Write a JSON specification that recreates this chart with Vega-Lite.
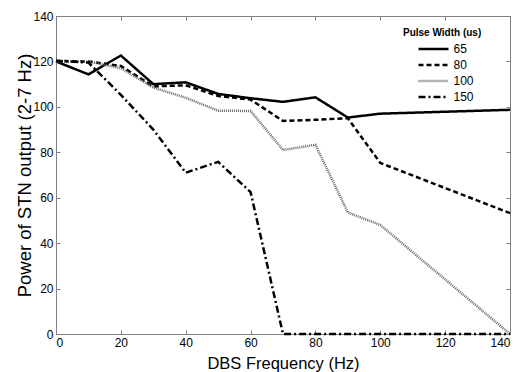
{
  "$schema": "https://vega.github.io/schema/vega-lite/v6.json",
  "width": 454,
  "height": 318,
  "autosize": "none",
  "padding": {"left": 56, "top": 16, "right": 16, "bottom": 38},
  "background": "white",
  "config": {
    "view": {"stroke": "#808080", "strokeWidth": 1},
    "font": "Liberation Sans",
    "axis": {
      "grid": false,
      "domainColor": "#808080",
      "tickColor": "#808080",
      "tickSize": -4,
      "labelPadding": 7,
      "labelColor": "black",
      "labelFont": "Liberation Sans",
      "labelFontSize": 12,
      "titleFont": "Liberation Sans",
      "titleFontWeight": "normal",
      "titleColor": "black"
    }
  },
  "data": {
    "values": [
      {"f": 0, "p": 120, "pw": "65"},
      {"f": 10, "p": 114.3, "pw": "65"},
      {"f": 20, "p": 122.6, "pw": "65"},
      {"f": 30, "p": 110, "pw": "65"},
      {"f": 40, "p": 110.8, "pw": "65"},
      {"f": 50, "p": 105.7, "pw": "65"},
      {"f": 60, "p": 103.8, "pw": "65"},
      {"f": 70, "p": 102.2, "pw": "65"},
      {"f": 80, "p": 104.2, "pw": "65"},
      {"f": 90, "p": 95.3, "pw": "65"},
      {"f": 100, "p": 97, "pw": "65"},
      {"f": 140, "p": 98.7, "pw": "65"},
      {"f": 0, "p": 120.2, "pw": "80"},
      {"f": 10, "p": 120, "pw": "80"},
      {"f": 20, "p": 118, "pw": "80"},
      {"f": 30, "p": 109, "pw": "80"},
      {"f": 40, "p": 109.5, "pw": "80"},
      {"f": 50, "p": 104.8, "pw": "80"},
      {"f": 60, "p": 103.2, "pw": "80"},
      {"f": 70, "p": 93.8, "pw": "80"},
      {"f": 80, "p": 94.3, "pw": "80"},
      {"f": 90, "p": 95, "pw": "80"},
      {"f": 100, "p": 75.3, "pw": "80"},
      {"f": 140, "p": 53.2, "pw": "80"},
      {"f": 0, "p": 120, "pw": "100"},
      {"f": 10, "p": 120, "pw": "100"},
      {"f": 20, "p": 117, "pw": "100"},
      {"f": 30, "p": 108.5, "pw": "100"},
      {"f": 40, "p": 104, "pw": "100"},
      {"f": 50, "p": 98.3, "pw": "100"},
      {"f": 60, "p": 98.2, "pw": "100"},
      {"f": 70, "p": 81, "pw": "100"},
      {"f": 80, "p": 83.3, "pw": "100"},
      {"f": 90, "p": 53.5, "pw": "100"},
      {"f": 100, "p": 48, "pw": "100"},
      {"f": 140, "p": 0, "pw": "100"},
      {"f": 0, "p": 120.3, "pw": "150"},
      {"f": 10, "p": 119.5, "pw": "150"},
      {"f": 20, "p": 105.3, "pw": "150"},
      {"f": 30, "p": 90, "pw": "150"},
      {"f": 40, "p": 71, "pw": "150"},
      {"f": 50, "p": 75.8, "pw": "150"},
      {"f": 60, "p": 62.5, "pw": "150"},
      {"f": 70, "p": 0, "pw": "150"},
      {"f": 140, "p": 0, "pw": "150"}
    ]
  },
  "layer": [
    {
      "mark": {"type": "line", "clip": false},
      "encoding": {
        "x": {"field": "f", "type": "quantitative", "scale": {"domain": [0, 140], "nice": false},
              "axis": {"values": [0,20,40,60,80,100,120,140], "title": "DBS Frequency (Hz)", "titleFontSize": 16.5, "titlePadding": 7}},
        "y": {"field": "p", "type": "quantitative", "scale": {"domain": [0, 140], "nice": false},
              "axis": {"values": [0,20,40,60,80,100,120,140], "title": "Power of STN output (2-7 Hz)", "titleFontSize": 18.5, "titlePadding": -2}},
        "color": {"field": "pw", "type": "nominal", "scale": {"domain": ["65","80","100","150"], "range": ["black","black","#666666","black"]},
                  "legend": {"title": "Pulse Width (us)", "orient": "none", "legendX": 347, "legendY": 12,
                             "titleFontSize": 10, "titleFontWeight": "bold", "titleFont": "Liberation Sans", "titleAnchor": "start", "titlePadding": 2,
                             "labelFontSize": 12, "labelFont": "Liberation Sans", "labelColor": "black",
                             "symbolType": "M-2,0H2", "symbolSize": 225, "symbolOffset": 21.5, "rowPadding": 1, "labelOffset": 11}},
        "strokeDash": {"field": "pw", "type": "nominal", "scale": {"domain": ["65","80","100","150"], "range": [[1,0],[5,3],[1,1],[7,3,2,3]]}},
        "strokeWidth": {"field": "pw", "type": "nominal", "scale": {"domain": ["65","80","100","150"], "range": [2.5,2.5,1.5,2.5]}},
        "order": {"field": "f", "type": "quantitative"}
      }
    },
    {
      "mark": {"type": "rule", "opacity": 0},
      "encoding": {
        "x": {"field": "f", "type": "quantitative", "aggregate": "min", "scale": {"domain": [0, 140], "nice": false},
              "axis": {"orient": "top", "values": [0,20,40,60,80,100,120,140], "labels": false, "title": null}},
        "y": {"field": "p", "type": "quantitative", "aggregate": "min", "scale": {"domain": [0, 140], "nice": false},
              "axis": {"orient": "right", "values": [0,20,40,60,80,100,120,140], "labels": false, "title": null}}
      }
    }
  ],
  "resolve": {"axis": {"x": "independent", "y": "independent"}}
}
